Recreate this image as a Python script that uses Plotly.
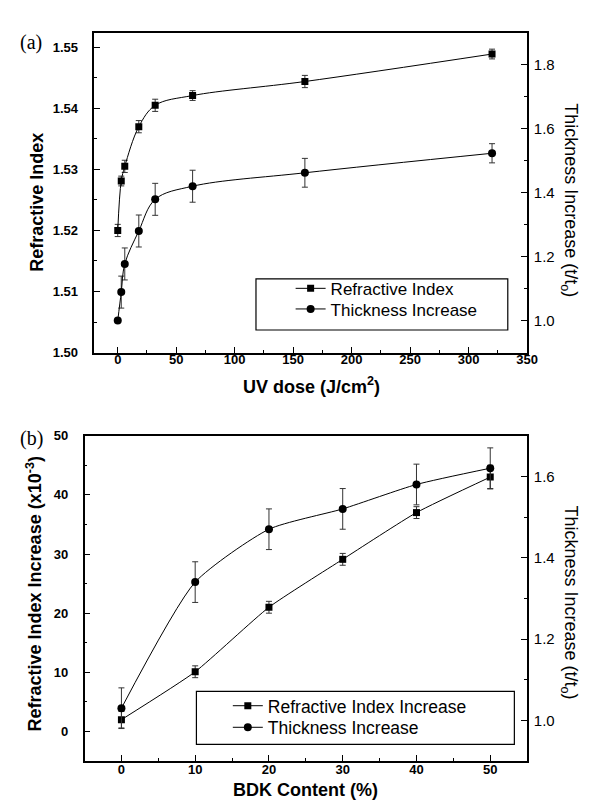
import plotly.graph_objects as go

# ---------------- data ----------------
uv_dose = [0, 3, 6, 18, 32, 64, 160, 320]
ri_a = [1.5200, 1.5281, 1.5305, 1.5370, 1.5405, 1.5421, 1.5444, 1.5489]
ri_a_err = [0.001, 0.0008, 0.001, 0.001, 0.001, 0.0008, 0.001, 0.0008]
thk_a = [1.000, 1.089, 1.177, 1.280, 1.379, 1.420, 1.462, 1.523]
thk_a_err = [0, 0.05, 0.05, 0.05, 0.05, 0.05, 0.045, 0.03]

bdk = [0, 10, 20, 30, 40, 50]
ri_b = [2.0, 10.1, 21.0, 29.1, 37.0, 43.0]
ri_b_err = [1.4, 1.0, 1.0, 1.0, 1.0, 2.0]
thk_b = [1.03, 1.34, 1.47, 1.52, 1.58, 1.62]
thk_b_err = [0.05, 0.05, 0.05, 0.05, 0.05, 0.05]

W, H = 589, 802
def px(x):
    return x / W
def py(y):
    return 1 - y / H

FONT = "Liberation Sans, Arial, sans-serif"
err_style = dict(type="data", color="#333", thickness=1, width=3)

fig = go.Figure()

# (a)
fig.add_trace(go.Scatter(
    x=uv_dose, y=ri_a, name="Refractive Index", mode="lines+markers",
    line=dict(color="black", width=1, shape="spline", smoothing=1),
    marker=dict(symbol="square", size=7, color="black"),
    error_y=dict(array=ri_a_err, **err_style),
    xaxis="x", yaxis="y", legend="legend"))
fig.add_trace(go.Scatter(
    x=uv_dose, y=thk_a, name="Thickness Increase", mode="lines+markers",
    line=dict(color="black", width=1, shape="spline", smoothing=1),
    marker=dict(symbol="circle", size=8, color="black"),
    error_y=dict(array=thk_a_err, **err_style),
    xaxis="x", yaxis="y2", legend="legend2"))

# (b)
fig.add_trace(go.Scatter(
    x=bdk, y=ri_b, name="Refractive Index Increase", mode="lines+markers",
    line=dict(color="black", width=1, shape="spline", smoothing=0.5),
    marker=dict(symbol="square", size=7, color="black"),
    error_y=dict(array=ri_b_err, **err_style),
    xaxis="x2", yaxis="y3", legend="legend3"))
fig.add_trace(go.Scatter(
    x=bdk, y=thk_b, name="Thickness Increase", mode="lines+markers",
    line=dict(color="black", width=1, shape="spline", smoothing=0.6),
    marker=dict(symbol="circle", size=8, color="black"),
    error_y=dict(array=thk_b_err, **err_style),
    xaxis="x2", yaxis="y4", legend="legend4"))

def ax(**kw):
    base = dict(showline=True, linecolor="black", linewidth=1.5, showgrid=False,
                zeroline=False, ticks="inside", ticklen=6, tickwidth=1.2,
                tickcolor="black", color="black")
    base.update(kw)
    return base

bold13 = dict(family=FONT, size=13, color="black", weight="bold")
reg15 = dict(family=FONT, size=15, color="black")

def leg(x, y, size):
    return dict(x=px(x), y=py(y), xanchor="left", yanchor="middle",
                bgcolor="rgba(0,0,0,0)", borderwidth=0,
                font=dict(family=FONT, size=size, color="black"),
                itemsizing="trace")

fig.update_layout(
    width=W, height=H, margin=dict(l=0, r=0, t=0, b=0),
    paper_bgcolor="white", plot_bgcolor="white",
    font=dict(family=FONT, color="black"),
    xaxis=ax(domain=[px(88), px(529)], anchor="y", range=[-20, 350],
             tick0=0, dtick=50, mirror=True, tickfont=bold13,
             ticklabelstandoff=-6,
             minor=dict(dtick=25, ticks="inside", ticklen=3, tickcolor="black")),
    yaxis=ax(domain=[py(344), py(18)], anchor="x", range=[1.50, 1.5524],
             tick0=1.5, dtick=0.01, tickformat=".2f", tickfont=bold13,
             ticklabelstandoff=12,
             minor=dict(dtick=0.005, ticks="inside", ticklen=3, tickcolor="black")),
    yaxis2=ax(overlaying="y", side="right", anchor="x", range=[0.9, 1.9],
              tick0=1.0, dtick=0.2, tickformat=".1f", tickfont=reg15,
              ticklabelstandoff=2,
              minor=dict(dtick=0.1, ticks="inside", ticklen=3, tickcolor="black")),
    xaxis2=ax(domain=[px(78), px(529)], anchor="y3", range=[-5, 55],
              tick0=0, dtick=10, mirror=True, tickfont=bold13,
              ticklabelstandoff=-4,
              minor=dict(dtick=5, ticks="inside", ticklen=3, tickcolor="black")),
    yaxis3=ax(domain=[py(760.3), py(428.7)], anchor="x2", range=[-5, 50],
              tick0=0, dtick=10, tickfont=bold13, ticklabelstandoff=12,
              minor=dict(dtick=5, ticks="inside", ticklen=3, tickcolor="black")),
    yaxis4=ax(overlaying="y3", side="right", anchor="x2", range=[0.9, 1.7],
              tick0=1.0, dtick=0.2, tickformat=".1f", tickfont=reg15,
              ticklabelstandoff=2,
              minor=dict(dtick=0.1, ticks="inside", ticklen=3, tickcolor="black")),
    legend=leg(288, 279, 17),
    legend2=leg(288, 300, 17),
    legend3=leg(224, 704, 17.5),
    legend4=leg(224, 726, 17.5),
    showlegend=True,
)

# legend frames
fig.add_shape(type="rect", xref="paper", yref="paper",
              x0=px(252.7), x1=px(509.3), y0=py(321), y1=py(269),
              line=dict(color="black", width=1.2), fillcolor="rgba(0,0,0,0)")
fig.add_shape(type="rect", xref="paper", yref="paper",
              x0=px(192), x1=px(516), y0=py(743.3), y1=py(689.3),
              line=dict(color="black", width=1.2), fillcolor="rgba(0,0,0,0)")

title_font = dict(family=FONT, size=18, color="black", weight="bold")
right_font = dict(family=FONT, size=18, color="black")
serif = dict(family="Liberation Serif, serif", size=20, color="black")
ann = [
    dict(text="(a)", x=px(23), y=py(28), font=serif),
    dict(text="(b)", x=px(24), y=py(432), font=serif),
    dict(text="Refractive Index", x=px(30), y=py(191), textangle=-90, font=title_font),
    dict(text="Thickness Increase (t/t<sub>o</sub>)", x=px(572), y=py(189), textangle=90, font=right_font),
    dict(text="UV dose (J/cm<sup>2</sup>)", x=px(309), y=py(378), font=title_font),
    dict(text="Refractive Index Increase (x10<sup>-3</sup>)", x=px(27), y=py(590), textangle=-90, font=title_font),
    dict(text="Thickness Increase (t/t<sub>o</sub>)", x=px(572), y=py(599), textangle=90, font=right_font),
    dict(text="BDK Content (%)", x=px(303), y=py(790), font=title_font),
]
for a in ann:
    fig.add_annotation(xref="paper", yref="paper", showarrow=False,
                       xanchor="center", yanchor="middle", **a)

fig.write_html("out.html")
